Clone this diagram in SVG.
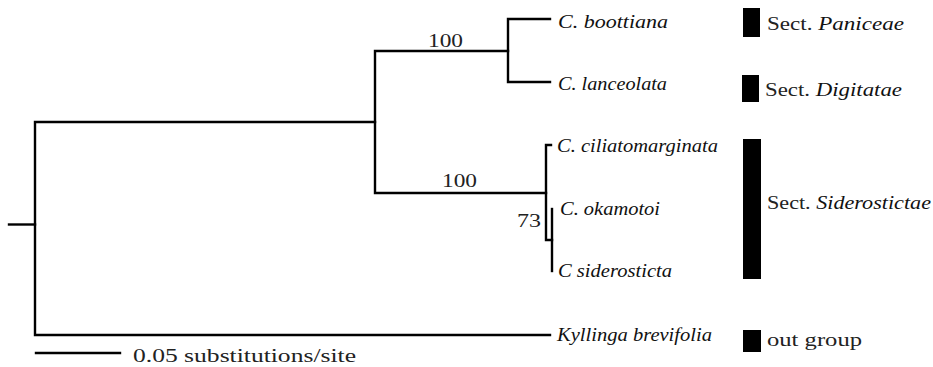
<svg xmlns="http://www.w3.org/2000/svg" width="933" height="367" viewBox="0 0 933 367">
<style>
.br{fill:none;stroke:#000;stroke-width:2.4;stroke-linecap:square;stroke-linejoin:miter}
text{font-family:'Liberation Serif','Times New Roman','DejaVu Serif',serif}
.sp{font-style:italic;font-size:18px;fill:#111}
.lb{font-size:18.5px;fill:#222}
.it{font-style:italic;fill:#111}
.bar{fill:#000}
</style>
<rect width="933" height="367" fill="#fff"/>
<g id="connectors">
<path class="br" d="M9,224.5 H35"/>
<path class="br" d="M35,122 V335 M35,122 H375 M35,335 H550"/>
<path class="br" d="M375,51 V193 M375,51 H508 M375,193 H546"/>
<path class="br" d="M508,19 V82 M508,19 H550 M508,82 H550"/>
<path class="br" d="M546,145 V240 M546,145 H551 M546,240 H552"/>
<path class="br" d="M552,209 V271"/>
<path class="br" d="M36,353 H120"/>
</g>
<g id="support-labels">
<text class="lb" x="428" y="47" textLength="35" lengthAdjust="spacingAndGlyphs">100</text>
<text class="lb" x="442" y="187" textLength="35" lengthAdjust="spacingAndGlyphs">100</text>
<text class="lb" x="517" y="227" textLength="24" lengthAdjust="spacingAndGlyphs">73</text>
</g>
<g id="taxon-boottiana"><text class="sp" x="558" y="28" textLength="110" lengthAdjust="spacingAndGlyphs">C. boottiana</text></g>
<g id="taxon-lanceolata"><text class="sp" x="558" y="90" textLength="109" lengthAdjust="spacingAndGlyphs">C. lanceolata</text></g>
<g id="taxon-ciliatomarginata"><text class="sp" x="557" y="152" textLength="161" lengthAdjust="spacingAndGlyphs">C. ciliatomarginata</text></g>
<g id="taxon-okamotoi"><text class="sp" x="560" y="215" textLength="100" lengthAdjust="spacingAndGlyphs">C. okamotoi</text></g>
<g id="taxon-siderosticta"><text class="sp" x="558" y="277" textLength="114" lengthAdjust="spacingAndGlyphs">C siderosticta</text></g>
<g id="taxon-kyllinga"><text class="sp" x="557" y="341" textLength="155" lengthAdjust="spacingAndGlyphs">Kyllinga brevifolia</text></g>
<g id="sect-paniceae">
<rect class="bar" x="743" y="8" width="17" height="29"/>
<text class="lb" x="767" y="30" textLength="137" lengthAdjust="spacingAndGlyphs">Sect. <tspan class="it">Paniceae</tspan></text>
</g>
<g id="sect-digitatae">
<rect class="bar" x="742" y="75" width="17" height="27"/>
<text class="lb" x="765" y="96" textLength="137" lengthAdjust="spacingAndGlyphs">Sect. <tspan class="it">Digitatae</tspan></text>
</g>
<g id="sect-siderostictae">
<rect class="bar" x="743" y="139" width="18" height="140"/>
<text class="lb" x="767" y="209" textLength="164" lengthAdjust="spacingAndGlyphs">Sect. <tspan class="it">Siderostictae</tspan></text>
</g>
<g id="outgroup">
<rect class="bar" x="743" y="330" width="18" height="22"/>
<text class="lb" x="767" y="346" textLength="95" lengthAdjust="spacingAndGlyphs">out group</text>
</g>
<g id="scale">
<text class="lb" x="133" y="362" textLength="223" lengthAdjust="spacingAndGlyphs">0.05 substitutions/site</text>
</g>
</svg>
